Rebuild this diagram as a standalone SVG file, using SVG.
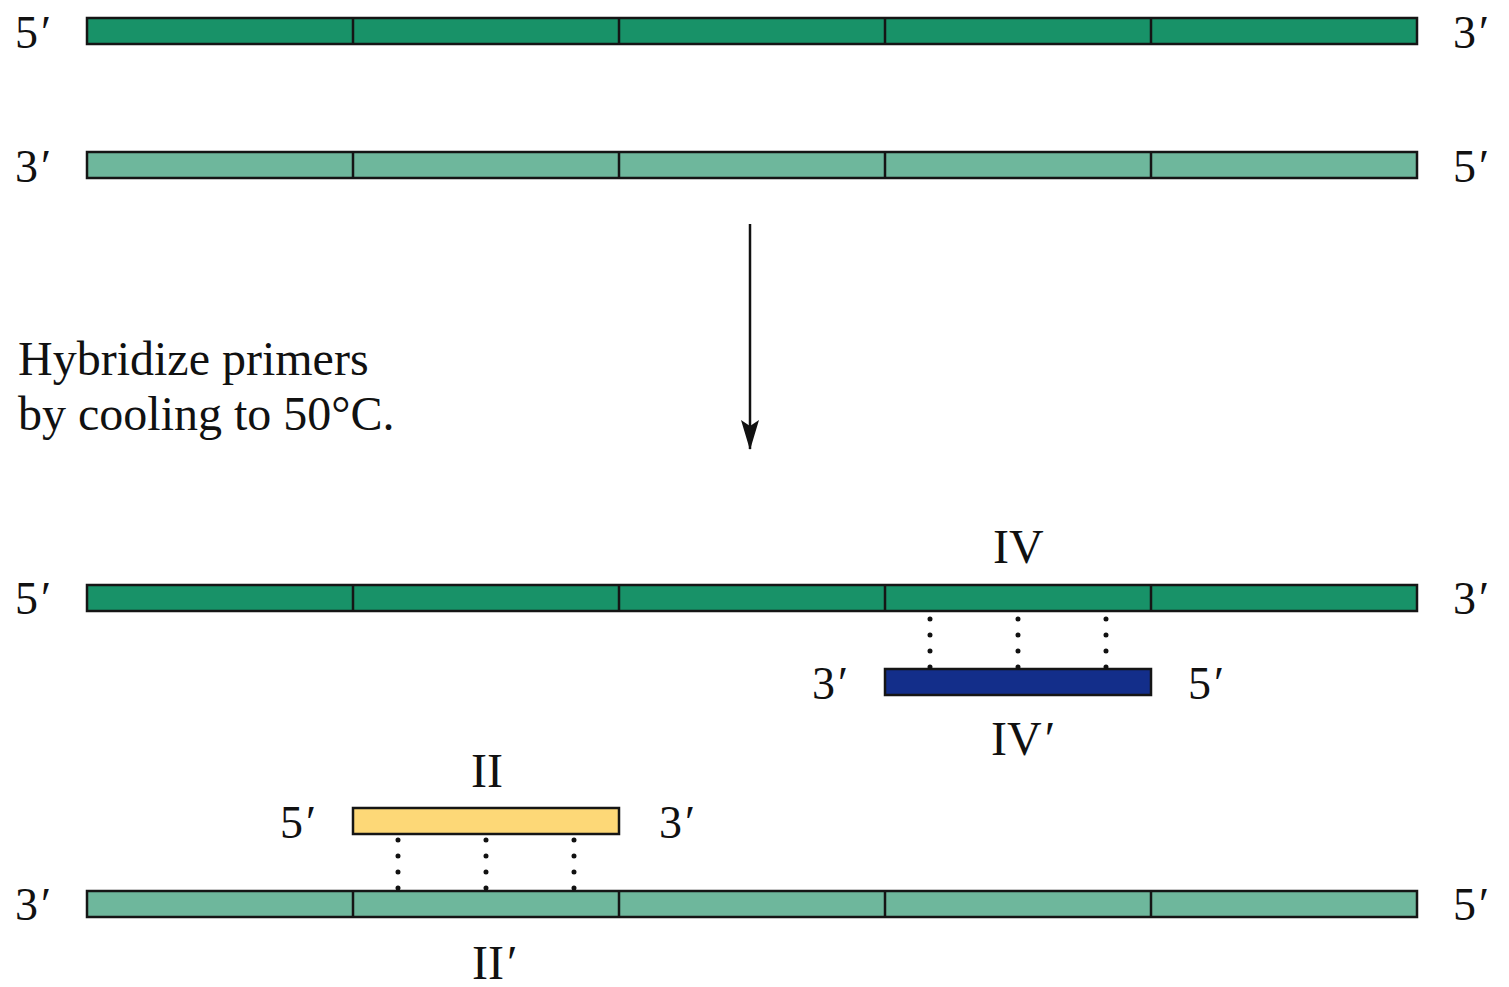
<svg xmlns="http://www.w3.org/2000/svg" width="1509" height="987" viewBox="0 0 1509 987">
<defs>
<style>
.lbl{font-family:"Liberation Serif","Times New Roman",serif;font-size:46px;fill:#111;}
.rn{font-family:"Liberation Serif","Times New Roman",serif;font-size:48px;fill:#111;}
.cap{font-family:"Liberation Serif","Times New Roman",serif;font-size:48px;fill:#111;}
.dk{fill:#189268;stroke:#151515;stroke-width:2.5;}
.lt{fill:#6eb79c;stroke:#151515;stroke-width:2.5;}
.sep{stroke:#151515;stroke-width:2.5;}
.blue{fill:#132e8a;stroke:#151515;stroke-width:2.5;}
.yel{fill:#fdd877;stroke:#151515;stroke-width:2.5;}
.hb{stroke:#111;stroke-width:5;stroke-linecap:round;stroke-dasharray:0 16;fill:none;}
</style>
<marker id="ah" viewBox="0 0 30 18" refX="29" refY="9" markerWidth="30" markerHeight="18" markerUnits="userSpaceOnUse" orient="auto">
<path d="M0,0 L30,9 L0,18 L6,9 Z" fill="#111"/>
</marker>
</defs>
<rect width="1509" height="987" fill="#fff"/>

<g id="strand1">
<rect class="dk" x="87" y="18" width="1330" height="26"/>
<path class="sep" d="M353,18V44M619,18V44M885,18V44M1151,18V44"/>
<text class="lbl" x="15" y="48">5<tspan dx="3">′</tspan></text>
<text class="lbl" x="1453" y="48">3<tspan dx="3">′</tspan></text>
</g>

<g id="strand2">
<rect class="lt" x="87" y="152" width="1330" height="26"/>
<path class="sep" d="M353,152V178M619,152V178M885,152V178M1151,152V178"/>
<text class="lbl" x="15" y="182">3<tspan dx="3">′</tspan></text>
<text class="lbl" x="1453" y="182">5<tspan dx="3">′</tspan></text>
</g>

<g id="step-label">
<text class="cap" x="18" y="375">Hybridize primers</text>
<text class="cap" x="18" y="430">by cooling to 50°C.</text>
</g>

<g id="strand3">
<rect class="dk" x="87" y="585" width="1330" height="26"/>
<path class="sep" d="M353,585V611M619,585V611M885,585V611M1151,585V611"/>
<text class="lbl" x="15" y="614">5<tspan dx="3">′</tspan></text>
<text class="lbl" x="1453" y="614">3<tspan dx="3">′</tspan></text>
<text class="rn" x="993" y="563">IV</text>
</g>

<g id="primer-IV">
<rect class="blue" x="885" y="669" width="266" height="26"/>
<text class="lbl" x="812" y="699">3<tspan dx="3">′</tspan></text>
<text class="lbl" x="1188" y="699">5<tspan dx="3">′</tspan></text>
<text class="rn" x="991" y="755">IV<tspan dx="3">′</tspan></text>
</g>

<g id="primer-II">
<rect class="yel" x="353" y="808" width="266" height="26"/>
<text class="lbl" x="280" y="838">5<tspan dx="3">′</tspan></text>
<text class="lbl" x="659" y="838">3<tspan dx="3">′</tspan></text>
<text class="rn" x="471" y="787">II</text>
</g>

<g id="strand4">
<rect class="lt" x="87" y="891" width="1330" height="26"/>
<path class="sep" d="M353,891V917M619,891V917M885,891V917M1151,891V917"/>
<text class="lbl" x="15" y="920">3<tspan dx="3">′</tspan></text>
<text class="lbl" x="1453" y="920">5<tspan dx="3">′</tspan></text>
<text class="rn" x="472" y="979">II<tspan dx="3">′</tspan></text>
</g>

<g id="connectors">
<line x1="750" y1="224" x2="750" y2="449" stroke="#111" stroke-width="2.5" marker-end="url(#ah)"/>
<path class="hb" d="M930,619V668M1018,619V668M1106,619V668"/>
<path class="hb" d="M398,840V889M486,840V889M574,840V889"/>
</g>
</svg>
